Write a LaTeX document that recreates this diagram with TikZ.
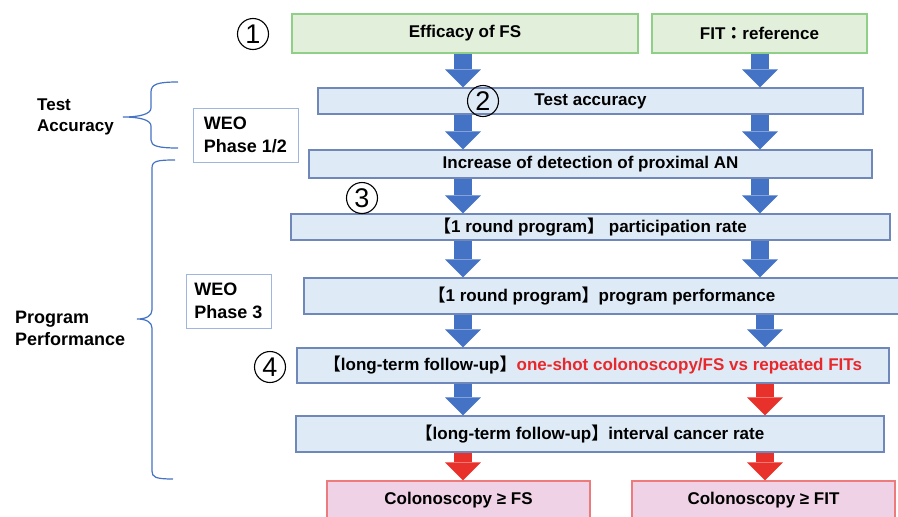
\documentclass[tikz,border=0pt]{standalone}
\usepackage{fontspec}
\setmainfont{Liberation Sans}
\newfontfamily\cjk{Noto Sans CJK JP Bold}
\usetikzlibrary{arrows.meta, positioning, calc}
\definecolor{BoxBlue}{HTML}{DEEBF7}
\definecolor{EdgeBlue}{HTML}{6F87B9}
\definecolor{BoxGreen}{HTML}{E2EFDA}
\definecolor{EdgeGreen}{HTML}{8FCF88}
\definecolor{BoxPink}{HTML}{EFD2E6}
\definecolor{EdgePink}{HTML}{EE7B7B}
\definecolor{ArrowBlue}{HTML}{4472C4}
\definecolor{ArrowRed}{HTML}{E8312A}
\definecolor{TextRed}{HTML}{E8282B}
\definecolor{WeoEdge}{HTML}{9FB7DF}
\newcommand{\lbr}{{\cjk 【}}
\newcommand{\rbr}{{\cjk 】}}

\begin{document}
\begin{tikzpicture}[x=1pt, y=-1pt,
    stage/.style={draw=EdgeBlue, fill=BoxBlue, line width=1.2pt, inner sep=0pt,
        font=\bfseries\fontsize{17}{20}\selectfont},
    topbox/.style={stage, draw=EdgeGreen, fill=BoxGreen},
    endbox/.style={stage, draw=EdgePink, fill=BoxPink},
    weobox/.style={draw=WeoEdge, line width=1pt, inner sep=0pt, align=left,
        font=\bfseries\fontsize{18}{23}\selectfont},
    sidelabel/.style={anchor=west, align=left, inner sep=0pt},
    numcirc/.style={circle, draw=black, line width=1.1pt, minimum size=31pt,
        inner sep=0pt, font=\fontsize{27}{27}\selectfont},
    blockarrow/.style={draw=ArrowBlue, line width=18pt,
        -{Triangle[width=36pt, length=18pt, line width=0pt]}},
    redarrow/.style={blockarrow, draw=ArrowRed},
    bracket/.style={draw=ArrowBlue, line width=1.2pt}]

    \useasboundingbox (0,0) rectangle (898,517);
    \clip (0,0) rectangle (898,517);

    % Boxes of the flow
    \node[topbox, minimum width=346pt, minimum height=39pt] (fs) at (465,33.5) {Efficacy of FS};
    \node[topbox, minimum width=215pt, minimum height=39pt] (fit) at (759.5,33.5) {FIT{\cjk ：}reference};
    \node[stage, minimum width=545pt, minimum height=26pt] (acc) at (590.5,101) {Test accuracy};
    \node[stage, minimum width=563pt, minimum height=28pt] (prox) at (590.5,164) {Increase of detection of proximal AN};
    \node[stage, minimum width=599pt, minimum height=26pt] (part) at (590.5,227) {\lbr 1 round program\rbr{} participation rate};
    \node[stage, minimum width=596pt, minimum height=36pt] (perf) at (602,296) {\lbr 1 round program\rbr program performance};
    \node[stage, minimum width=592pt, minimum height=35pt] (shot) at (593,365.5) {\lbr long-term follow-up\rbr\textcolor{TextRed}{one-shot colonoscopy/FS vs repeated FITs}};
    \node[stage, minimum width=588pt, minimum height=36pt] (intv) at (590,434) {\lbr long-term follow-up\rbr interval cancer rate};
    \node[endbox, minimum width=263pt, minimum height=38pt] (colfs) at (458.5,500) {Colonoscopy ≥ FS};
    \node[endbox, minimum width=263pt, minimum height=38pt] (colfit) at (763.5,500) {Colonoscopy ≥ FIT};

    % Arrow columns
    \coordinate (colL) at (463,0);
    \coordinate (colR) at (760,0);
    \coordinate (colR2) at (765,0);

    \draw[blockarrow] (fs.south -| colL) -- (acc.north -| colL);
    \draw[blockarrow] (fit.south -| colR) -- (acc.north -| colR);
    \draw[blockarrow] (acc.south -| colL) -- (prox.north -| colL);
    \draw[blockarrow] (acc.south -| colR) -- (prox.north -| colR);
    \draw[blockarrow] (prox.south -| colL) -- (part.north -| colL);
    \draw[blockarrow] (prox.south -| colR) -- (part.north -| colR);
    \draw[blockarrow] (part.south -| colL) -- (perf.north -| colL);
    \draw[blockarrow] (part.south -| colR) -- (perf.north -| colR);
    \draw[blockarrow] (perf.south -| colL) -- (shot.north -| colL);
    \draw[blockarrow] (perf.south -| colR2) -- (shot.north -| colR2);
    \draw[blockarrow] (shot.south -| colL) -- (intv.north -| colL);
    \draw[redarrow] (shot.south -| colR2) -- (intv.north -| colR2);
    \draw[redarrow] (intv.south -| colL) -- (colfs.north -| colL);
    \draw[redarrow] (intv.south -| colR2) -- (colfit.north -| colR2);

    % Step numbers
    \node[numcirc] (n1) at (253,34) {1};
    \node[numcirc] (n2) at (483,101) {2};
    \node[numcirc] (n3) at (362,198) {3};
    \node[numcirc] (n4) at (270,367) {4};

    % WEO phases
    \node[weobox, minimum width=105pt, minimum height=54pt] (weo12) at (245.5,135) {WEO\\Phase 1/2};
    \node[weobox, minimum width=85pt, minimum height=54pt] (weo3) at (228.5,301) {WEO\\Phase 3};

    % Left braces and labels
    \draw[bracket] (178,82) .. controls (158,82) and (151,84) .. (151,92) -- (151,108)
        .. controls (151,114) and (140,117) .. (123,117)
        .. controls (140,117) and (151,120) .. (151,126) -- (151,140)
        .. controls (151,146) and (158,148) .. (178,148);
    \draw[bracket] (175,160) .. controls (157,160) and (152,161) .. (152,168) -- (152,310)
        .. controls (152,316) and (146,319) .. (137,319)
        .. controls (146,319) and (152,322) .. (152,328) -- (152,471)
        .. controls (152,477) and (155,479) .. (173,479);
    \node[sidelabel, font=\bfseries\fontsize{17}{21}\selectfont] (testlbl) at (37,117) {Test\\Accuracy};
    \node[sidelabel, font=\bfseries\fontsize{18}{22}\selectfont] (proglbl) at (15,328) {Program\\Performance};
\end{tikzpicture}
\end{document}
